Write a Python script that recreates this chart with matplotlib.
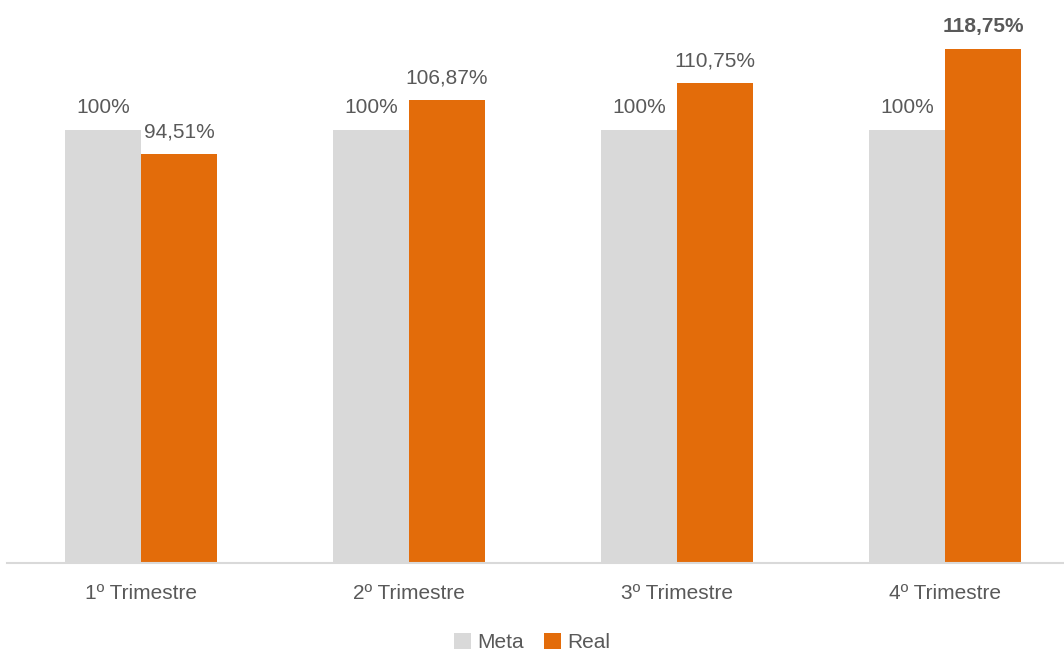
import numpy as np
import matplotlib.pyplot as plt

# Datos
trimestres = ['1º Trimestre', '2º Trimestre', '3º Trimestre', '4º Trimestre']
meta = [100, 100, 100, 100]
real = [94.51, 106.87, 110.75, 118.75]
etiquetas_meta = ['100%', '100%', '100%', '100%']
etiquetas_real = ['94,51%', '106,87%', '110,75%', '118,75%']

plt.rcParams['font.family'] = ['Liberation Sans Narrow', 'Liberation Sans', 'DejaVu Sans']

fig = plt.figure(figsize=(10.64, 6.51), dpi=100)
ax = fig.add_axes([0.0066, 0.1352, 0.9934, 0.8648])

x = np.arange(len(trimestres))
ancho = 0.284
b1 = ax.bar(x - ancho / 2, meta, ancho, color='#D9D9D9', label='Meta')
b2 = ax.bar(x + ancho / 2, real, ancho, color='#E36C0A', label='Real')

texto = '#595959'
for i, rect in enumerate(b1):
    ax.annotate(etiquetas_meta[i], (rect.get_x() + rect.get_width() / 2, rect.get_height()),
                xytext=(0, 9), textcoords='offset points', ha='center', va='bottom',
                fontsize=15, color=texto)
for i, rect in enumerate(b2):
    peso = 'bold' if i == len(b2) - 1 else 'normal'
    ax.annotate(etiquetas_real[i], (rect.get_x() + rect.get_width() / 2, rect.get_height()),
                xytext=(0, 9), textcoords='offset points', ha='center', va='bottom',
                fontsize=15, color=texto, fontweight=peso)

ax.set_xlim(-0.5, 3.444)
ax.set_ylim(0, 130)
ax.set_xticks(x)
ax.set_xticklabels(trimestres, fontsize=15, color=texto)
ax.tick_params(axis='x', length=0, pad=15)
ax.set_yticks([])
for s in ['top', 'right', 'left']:
    ax.spines[s].set_visible(False)
ax.spines['bottom'].set_color('#D9D9D9')
ax.spines['bottom'].set_linewidth(1.5)

leg = fig.legend(loc='lower center', bbox_to_anchor=(0.5, -0.031), ncol=2, frameon=False,
                 fontsize=15, handlelength=0.8, handleheight=0.8, handletextpad=0.3,
                 columnspacing=1.0)
for t in leg.get_texts():
    t.set_color(texto)

fig.savefig('out.png', dpi=100)
